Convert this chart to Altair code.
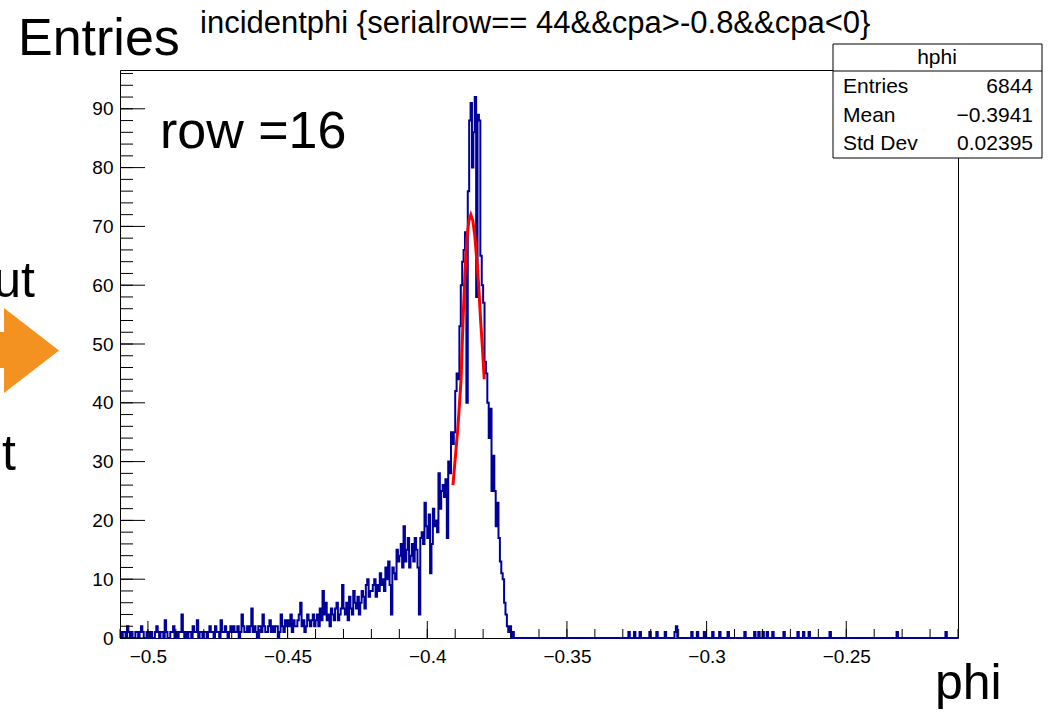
import altair as alt
import pandas as pd

# ---------------- data ----------------
bin_lo = -0.51
bin_w = 0.0005
n_bins = 600

counts_main = [
    1, 0, 1, 1, 0, 2, 1, 0, 1, 0, 0, 1, 1, 0, 1, 2, 1, 0, 0, 1,
    1, 0, 1, 0, 0, 1, 2, 1, 0, 1, 1, 0, 3, 1, 0, 0, 1, 1, 2, 0,
    1, 0, 1, 1, 4, 1, 0, 1, 0, 1, 1, 0, 2, 1, 1, 3, 0, 1, 1, 0,
    1, 1, 0, 1, 2, 1, 1, 0, 2, 1, 1, 0, 3, 1, 1, 2, 1, 0, 1, 2,
    1, 2, 1, 1, 2, 0, 1, 4, 2, 1, 1, 2, 1, 2, 5, 1, 2, 1, 0, 2,
    2, 1, 4, 2, 1, 1, 2, 3, 1, 2, 1, 2, 2, 0, 1, 4, 2, 1, 3, 2,
    3, 2, 4, 1, 3, 2, 2, 3, 4, 6, 2, 3, 1, 2, 4, 3, 2, 3, 4, 2,
    3, 4, 2, 5, 3, 8, 4, 6, 3, 4, 2, 5, 4, 3, 5, 6, 3, 4, 5, 9,
    5, 4, 6, 3, 7, 5, 4, 8, 6, 5, 7, 4, 6, 8, 7, 5, 9, 10, 7, 8,
    8, 9, 10, 7, 9, 8, 11, 9, 10, 8, 12, 10, 13, 9, 4, 12, 11, 10, 15, 13,
    14, 16, 12, 19, 13, 15, 17, 12, 14, 16, 13, 17, 15, 12, 4, 17, 18, 16, 23, 19,
    17, 21, 11, 16, 22, 19, 20, 18, 28, 22, 25, 26, 24, 27, 17, 30, 28, 35, 33, 35,
    42, 45, 44, 53, 60, 64, 66, 69, 40, 76, 88, 91, 80, 86, 92, 58, 89, 88, 65, 60,
    57, 47, 45, 40, 34, 39, 25, 31, 25, 19, 23, 17, 13, 11, 10, 6, 4, 2, 1, 2, 0, 1,
]
sparse_bins = [364, 368, 372, 379, 384, 390, 397, 398, 409, 413, 418, 424, 429,
               435, 447, 454, 457, 460, 463, 467, 475, 485, 489, 493, 508, 556, 591]
sparse_counts = [1, 1, 1, 1, 1, 1, 1, 2, 1, 1, 1, 1, 1,
                 1, 1, 1, 1, 1, 1, 1, 1, 1, 1, 1, 1, 1, 1]

fit_phi = [-0.3908, -0.3899, -0.3890, -0.3879, -0.3872, -0.3865, -0.3858, -0.3851,
           -0.3844, -0.3837, -0.3830, -0.3823, -0.3816, -0.3809, -0.3802, -0.3796]
fit_val = [26, 31, 36, 44, 54, 62, 68, 71, 72, 71, 68.5, 64.5, 60, 54, 49, 44]

x_major = [-0.5, -0.45, -0.4, -0.35, -0.3, -0.25]
x_minor = [round(-0.51 + 0.01 * k, 3) for k in range(31)]
y_major = [0, 10, 20, 30, 40, 50, 60, 70, 80, 90]
y_minor = list(range(0, 97, 2))

stat_names = ["Entries", "Mean", "Std Dev"]
stat_values = ["6844", "\u22120.3941", "0.02395"]

# ---------------- build table ----------------
counts = [0] * n_bins
for i, c in enumerate(counts_main):
    counts[i] = c
for b, c in zip(sparse_bins, sparse_counts):
    counts[b] = c
edges = [round(bin_lo + bin_w * i, 5) for i in range(n_bins + 1)]
hist_df = pd.DataFrame({"phi": edges, "n": counts + [counts[-1]]})
fit_df = pd.DataFrame({"phi": fit_phi, "n": fit_val})

W, H = 838, 568
FONT = "Liberation Sans"
xscale = alt.Scale(domain=[-0.51, -0.21], nice=False, zero=False)
yscale = alt.Scale(domain=[0, 96.6], nice=False, zero=False)
x_axis = alt.Axis(values=x_major, format="~g", ticks=False, domain=False,
                  grid=False, title=None, labelFont=FONT, labelFontSize=19,
                  labelColor="black", labelPadding=9)
y_axis = alt.Axis(values=y_major, format="d", ticks=False, domain=False,
                  grid=False, title=None, labelFont=FONT, labelFontSize=19,
                  labelColor="black", labelPadding=7)

X = lambda: alt.X("phi:Q", scale=xscale, axis=x_axis)
Y = lambda: alt.Y("n:Q", scale=yscale, axis=y_axis)

hist = alt.Chart(hist_df).mark_line(
    interpolate="step-after", color="#000099", strokeWidth=2
).encode(x=X(), y=Y())

fit = alt.Chart(fit_df).mark_line(color="#ff0000", strokeWidth=3).encode(x=X(), y=Y())

def xticks(vals, length):
    return alt.Chart(pd.DataFrame({"phi": vals})).mark_rule(color="black", strokeWidth=1).encode(
        x=X(), y=alt.value(H), y2=alt.value(H - length))

def yticks(vals, length):
    return alt.Chart(pd.DataFrame({"n": vals})).mark_rule(color="black", strokeWidth=1).encode(
        y=Y(), x=alt.value(0), x2=alt.value(length))

# stats box (plot-area coordinates)
box = alt.Chart(pd.DataFrame({"a": [0]})).mark_rect(
    fill="white", stroke="black", strokeWidth=1
).encode(x=alt.value(713), x2=alt.value(922), y=alt.value(-26), y2=alt.value(88))
divider = alt.Chart(pd.DataFrame({"a": [0]})).mark_rule(color="black").encode(
    x=alt.value(713), x2=alt.value(922), y=alt.value(1))

def text_layer(txt, x, y, size, align="left", baseline="alphabetic", color="black"):
    return alt.Chart(pd.DataFrame({"t": [txt]})).mark_text(
        font=FONT, fontSize=size, align=align, baseline=baseline, color=color
    ).encode(x=alt.value(x), y=alt.value(y), text="t:N")

stats_title = text_layer("hphi", 817, -12, 21, align="center", baseline="middle")
stat_rows = []
for k, (nm, vv) in enumerate(zip(stat_names, stat_values)):
    yy = 17 + 28.5 * k
    stat_rows.append(text_layer(nm, 723, yy, 21, baseline="middle"))
    stat_rows.append(text_layer(vv, 913, yy, 21, align="right", baseline="middle"))

title_t = text_layer("incidentphi {serialrow== 44&&cpa>-0.8&&cpa<0}", 80, -37, 31)
entries_t = text_layer("Entries", -102, -15, 52)
row_t = text_layer("row =16", 40, 78, 52)
phi_t = text_layer("phi", 815, 629, 50)
ut_t = text_layer("ut", -85, 227, 50, align="right")
t_t = text_layer("t", -104, 400, 50, align="right")

arrow = alt.Chart(pd.DataFrame({"a": [0]})).mark_point(
    shape="M-0.647,-1L0.647,0L-0.647,1Z", size=7225, filled=True,
    color="#F39121", opacity=1, strokeWidth=0
).encode(x=alt.value(-88.5), y=alt.value(280.5))
arrow_stem = alt.Chart(pd.DataFrame({"a": [0]})).mark_rect(color="#F39121").encode(
    x=alt.value(-125), x2=alt.value(-115), y=alt.value(262), y2=alt.value(298))

chart = alt.layer(
    hist, fit,
    xticks(x_minor, 9), xticks(x_major, 17),
    yticks(y_minor, 13), yticks(y_major, 25),
    box, divider, stats_title, *stat_rows,
    title_t, entries_t, row_t, phi_t, ut_t, t_t, arrow, arrow_stem,
).properties(
    width=W, height=H,
    autosize=alt.AutoSizeParams(type="none"),
    padding={"left": 120, "top": 70, "right": 94, "bottom": 74},
    background="white",
).configure_view(stroke="black", strokeWidth=1)

chart.save("out.html", embed_options={"renderer": "svg", "actions": False})
